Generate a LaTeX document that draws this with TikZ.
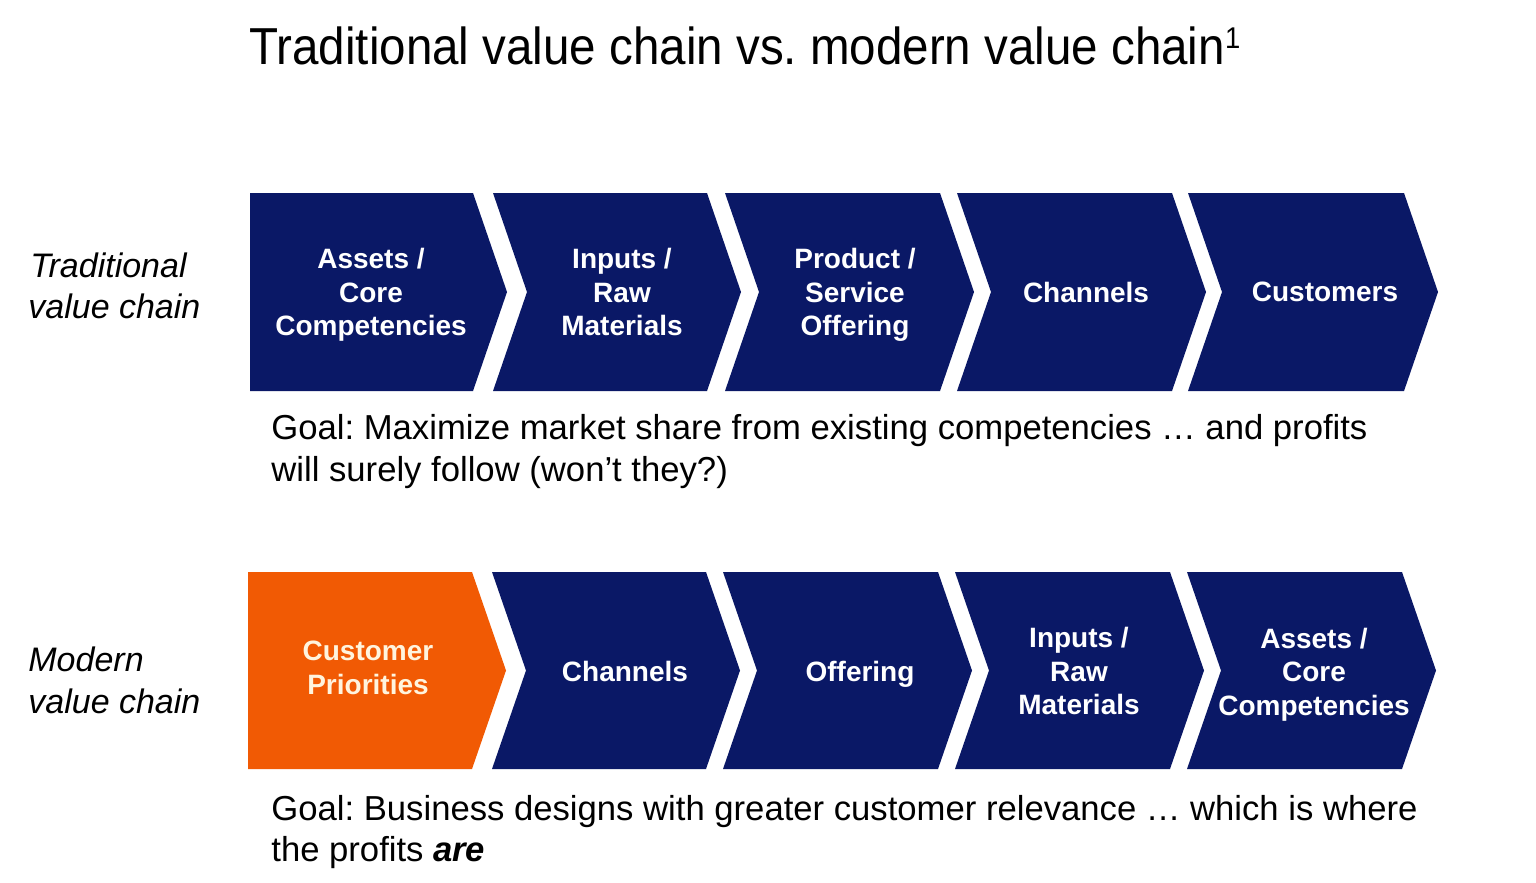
\documentclass[tikz,border=0pt]{standalone}
\usepackage{fontspec}
\setmainfont{Liberation Sans}
\newfontfamily\titlefont[FakeStretch=0.914]{Liberation Sans}
\definecolor{navy}{RGB}{10,24,102}
\definecolor{vorange}{RGB}{241,90,4}
\definecolor{cream}{RGB}{255,244,222}
\frenchspacing
% #1 x left, #2 x right (top corner), #3 y top, #4 y bottom, #5 notch depth, #6 colour
\newcommand\chevronshape[6]{%
  \fill[#6] (#1,#3) -- (#2,#3) -- ({#2+34},{(#3+#4)/2}) -- (#2,#4) -- (#1,#4) -- ({#1+#5},{(#3+#4)/2}) -- cycle;}
\tikzset{
  chevtext/.style={text=white, font=\bfseries\fontsize{14}{16.75}\selectfont, align=center, inner sep=0pt},
  rowlabel/.style={anchor=base west, font=\itshape\fontsize{17}{21}\selectfont, inner sep=0pt},
  goaltext/.style={anchor=base west, font=\fontsize{17.33}{21}\selectfont, inner sep=0pt},
}
\begin{document}
\begin{tikzpicture}[x=0.5pt,y=-0.5pt]
\useasboundingbox (0,0) rectangle (1536,883);
\fill[white] (0,0) rectangle (1536,883);

% title
\node[anchor=base west, inner sep=0pt, font=\titlefont\fontsize{26}{30}\selectfont] (title) at (249,65)
  {Traditional value chain vs. modern value chain\raisebox{8pt}{\fontsize{15}{15}\selectfont 1}};

% row labels
\node[rowlabel] (trad1) at (30,277) {Traditional};
\node[rowlabel] (trad2) at (28,318) {value chain};
\node[rowlabel] (mod1) at (28,671) {Modern};
\node[rowlabel] (mod2) at (28,713) {value chain};

% traditional chain
\chevronshape{250}{473}{193}{391}{0}{navy}
\chevronshape{493}{707}{193}{391}{34}{navy}
\chevronshape{725}{940}{193}{391}{34}{navy}
\chevronshape{957}{1172}{193}{391}{34}{navy}
\chevronshape{1188}{1404}{193}{391}{34}{navy}

\node[chevtext] (t1) at (371,295) {Assets /\\Core\\Competencies};
\node[chevtext] (t2) at (622,292) {Inputs /\\Raw\\Materials};
\node[chevtext] (t3) at (855,295) {Product /\\Service\\Offering};
\node[chevtext] (t4) at (1086,292) {Channels};
\node[chevtext] (t5) at (1325,292) {Customers};

\node[goaltext] (g1a) at (271,439) {Goal: Maximize market share from existing competencies \dots{} and profits};
\node[goaltext] (g1b) at (271,481) {will surely follow (won’t they?)};

% modern chain
\chevronshape{248}{472}{572}{769}{0}{vorange}
\chevronshape{492}{706}{572}{769}{34}{navy}
\chevronshape{723}{938}{572}{769}{34}{navy}
\chevronshape{955}{1170}{572}{769}{34}{navy}
\chevronshape{1187}{1402}{572}{769}{34}{navy}

\node[chevtext, text=cream] (m1) at (368,668) {Customer\\Priorities};
\node[chevtext] (m2) at (625,671) {Channels};
\node[chevtext] (m3) at (860,674) {Offering};
\node[chevtext] (m4) at (1079,671) {Inputs /\\Raw\\Materials};
\node[chevtext] (m5) at (1314,674.5) {Assets /\\Core\\Competencies};

\node[goaltext] (g2a) at (271,820) {Goal: Business designs with greater customer relevance \dots{} which is where};
\node[goaltext] (g2b) at (271,861) {the profits \textbf{\textit{are}}};
\end{tikzpicture}
\end{document}
